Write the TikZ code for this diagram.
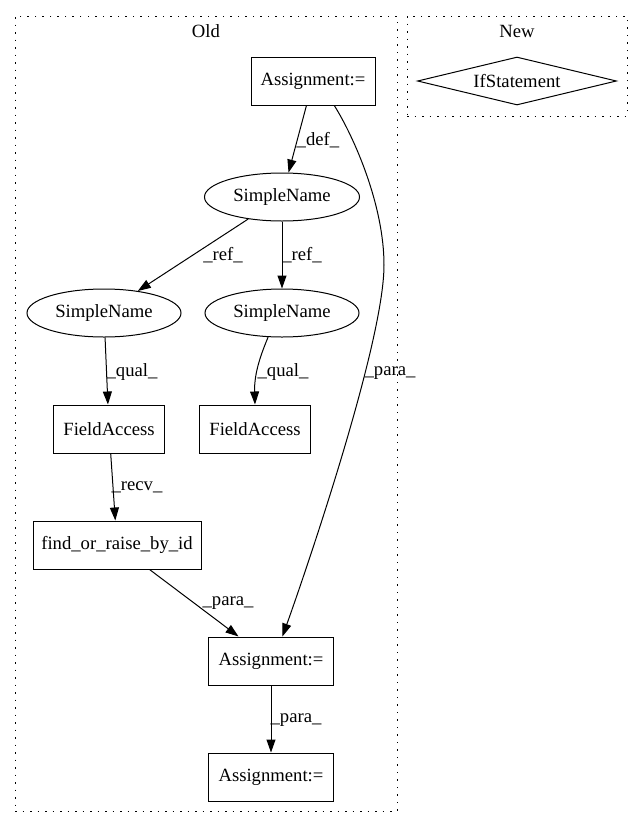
\documentclass[tikz,border=0pt]{standalone}
\usepackage{fontspec}
\setmainfont{Liberation Serif}
\usetikzlibrary{arrows.meta,shapes.geometric}
\begin{document}
\begin{tikzpicture}[x=1pt,y=-1pt,
  every node/.style={font=\fontsize{18.67}{22}\selectfont, inner sep=0pt},
  box/.style={draw, rectangle, minimum height=48pt, line width=1pt},
  ell/.style={draw, ellipse, minimum width=154pt, minimum height=48pt, line width=1pt},
  dia/.style={draw, diamond, shape aspect=4, minimum width=199pt, minimum height=48pt, line width=1pt},
  edge/.style={draw, line width=1pt, -{Triangle[length=13pt,width=9pt]}},
  cluster/.style={draw, rectangle, line width=1pt, dash pattern=on 1.5pt off 6pt}]
\useasboundingbox (0,0) rectangle (643,828);
% clusters
\node[cluster, minimum width=382pt, minimum height=795pt] (cold) at (206,413.5) {};
\node[cluster, minimum width=220pt, minimum height=100pt] (cnew) at (517,66) {};
\node (old) at (206,31) {Old};
\node (new) at (517,31) {New};
% nodes
\node[box, minimum width=124pt] (A1) at (313,81) {Assignment:=};
\node[ell, minimum width=155pt] (SN0) at (282,197) {SimpleName};
\node[ell] (SN1) at (104,313) {SimpleName};
\node[ell] (SN2) at (282,313) {SimpleName};
\node[box, minimum width=111pt] (FA1) at (109,429) {FieldAccess};
\node[box, minimum width=111pt] (FA2) at (255,429) {FieldAccess};
\node[box, minimum width=168pt] (FR) at (117,545) {find\_or\_raise\_by\_id};
\node[box, minimum width=125pt] (A2) at (271,661) {Assignment:=};
\node[box, minimum width=125pt] (A3) at (271,777) {Assignment:=};
\node[dia] (IF) at (517,81) {IfStatement};
% edges
\draw[edge] (A1) -- (SN0);
\draw[edge] (SN0) -- (SN1);
\draw[edge] (SN0) -- (SN2);
\draw[edge] (SN1) -- (FA1);
\draw[edge] (SN2.-120) .. controls (262,352) and (254,372) .. (FA2.north);
\draw[edge] (FA1) -- (FR);
\draw[edge] (FR) -- (A2);
\draw[edge] (A1.-49) .. controls (354,137) and (384,205) .. (384,265) .. controls (384,345) and (302,582) .. (A2.65);
\draw[edge] (A2) -- (A3);
% labels
\node (l1) at (318,140) {\_def\_};
\node (l2) at (223,255) {\_ref\_};
\node (l3) at (302,255) {\_ref\_};
\node (l4) at (132,372) {\_qual\_};
\node (l5) at (283,372) {\_qual\_};
\node (l6) at (137,487) {\_recv\_};
\node (l7) at (228,603) {\_para\_};
\node (l8) at (390,373) {\_para\_};
\node (l9) at (296,720) {\_para\_};
\end{tikzpicture}
\end{document}
